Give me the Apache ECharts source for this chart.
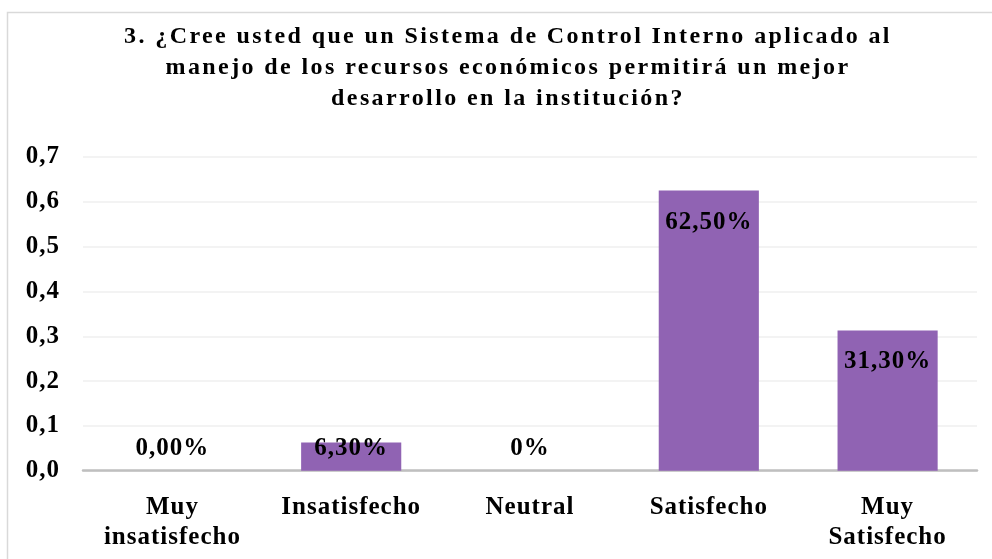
<!DOCTYPE html>
<html>
<head>
<meta charset="utf-8">
<script src="https://cdn.jsdelivr.net/npm/echarts@6/dist/echarts.min.js"></script>
<style>html,body{margin:0;padding:0;background:#fff;}#c{width:992px;height:559px;}</style>
</head>
<body>
<div id="c"></div>
<script>
const titleText = '3. ¿Cree usted que un Sistema de Control Interno aplicado al\nmanejo de los recursos económicos permitirá un mejor\ndesarrollo en la institución?';
const categories = ['Muy\ninsatisfecho', 'Insatisfecho', 'Neutral', 'Satisfecho', 'Muy\nSatisfecho'];
const values = [0, 0.063, 0, 0.625, 0.313];
const valueLabels = ['0,00%', '6,30%', '0%', '62,50%', '31,30%'];
const yTicks = [0, 0.1, 0.2, 0.3, 0.4, 0.5, 0.6, 0.7];

// Letter spacing like the reference's text (applied by font size when drawn)
(function () {
  const proto = CanvasRenderingContext2D.prototype;
  if (!('letterSpacing' in proto)) return;
  const orig = proto.fillText;
  proto.fillText = function (t, x, y, w) {
    const m = /(\d+(?:\.\d+)?)px/.exec(this.font);
    const s = m ? parseFloat(m[1]) : 0;
    this.letterSpacing = s === 24 ? '2.4px' : (s === 25 ? '1px' : '0px');
    const r = w === undefined ? orig.call(this, t, x, y) : orig.call(this, t, x, y, w);
    this.letterSpacing = '0px';
    return r;
  };
})();

const FONT = '"Liberation Serif", "Times New Roman", serif';
const chart = echarts.init(document.getElementById('c'), null, {renderer: 'canvas'});

const data = values.map((v, i) => ({
  value: v,
  label: v > 0.15
    ? {position: 'insideTop', distance: 19, formatter: valueLabels[i]}
    : {position: 'insideBottom', distance: 10, formatter: valueLabels[i]}
}));

chart.setOption({
  backgroundColor: '#ffffff',
  animation: false,
  graphic: [{
    type: 'rect', silent: true, z: -10,
    shape: {x: 7.5, y: 12.5, width: 1100, height: 700},
    style: {fill: 'none', stroke: '#d9d9d9', lineWidth: 1.5}
  }],
  title: {
    text: titleText,
    left: 503, top: 16, textAlign: 'center',
    textStyle: {fontFamily: FONT, fontWeight: 'bold', fontSize: 24, lineHeight: 31, color: '#000'}
  },
  grid: {left: 83, right: 15, top: 157, bottom: 88.3, containLabel: false},
  xAxis: {
    type: 'category',
    data: categories,
    axisLine: {lineStyle: {color: '#bfbfbf', width: 2.5}},
    axisTick: {show: false},
    axisLabel: {fontFamily: FONT, fontWeight: 'bold', fontSize: 25, lineHeight: 30, color: '#000', margin: 22, interval: 0}
  },
  yAxis: {
    type: 'value',
    min: yTicks[0], max: yTicks[yTicks.length - 1], interval: 0.1,
    axisLine: {show: false},
    axisTick: {show: false},
    splitLine: {lineStyle: {color: '#efefef', width: 1.5}},
    axisLabel: {
      fontFamily: FONT, fontWeight: 'bold', fontSize: 25, color: '#000', margin: 23,
      formatter: v => v.toFixed(1).replace('.', ',')
    }
  },
  series: [{
    type: 'bar',
    data: data,
    barWidth: '56%',
    itemStyle: {color: '#9063b3'},
    label: {show: true, fontFamily: FONT, fontWeight: 'bold', fontSize: 25, color: '#000'}
  }]
});
</script>
</body>
</html>
